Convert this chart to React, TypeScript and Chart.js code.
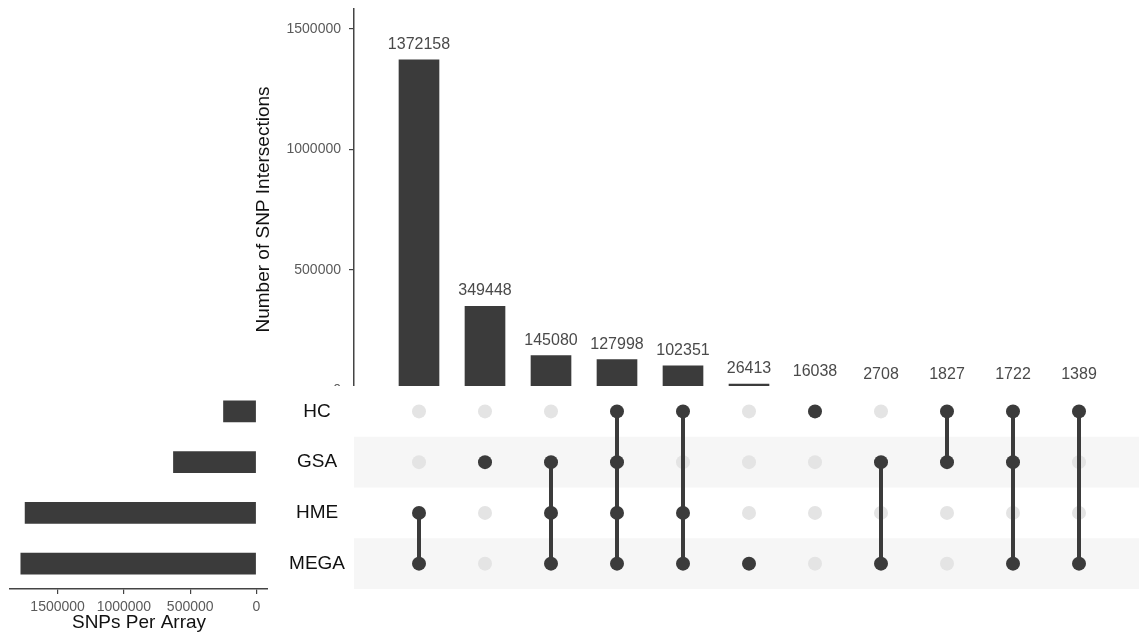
import React, { useEffect, useRef } from 'react';
import { Chart, registerables } from 'chart.js';

Chart.register(...registerables);

const FONT = '"Liberation Sans", Arial, Helvetica, sans-serif';
Chart.defaults.font.family = FONT;

// ---- data ----
const sets = ['HC', 'GSA', 'HME', 'MEGA'];
const setSizes = [251325, 628783, 1747587, 1779819];
const intersectionSizes = [1372158, 349448, 145080, 127998, 102351, 26413, 16038, 2708, 1827, 1722, 1389];
const intersectionMembers = [
  ['HME', 'MEGA'],
  ['GSA'],
  ['GSA', 'HME', 'MEGA'],
  ['HC', 'GSA', 'HME', 'MEGA'],
  ['HC', 'HME', 'MEGA'],
  ['MEGA'],
  ['HC'],
  ['GSA', 'MEGA'],
  ['HC', 'GSA'],
  ['HC', 'GSA', 'MEGA'],
  ['HC', 'MEGA'],
];
const topTicks = [0, 500000, 1000000, 1500000];
const sideTicks = [0, 500000, 1000000, 1500000];

// ---- styling ----
const DARK = '#3b3b3b';
const AXIS = '#444444';
const TICKTEXT = '#5a5a5a';
const X_MIN = -65 / 66;
const X_MAX = 10 + 60 / 66;

const noPad = (s: any) => {
  s.paddingTop = 0;
  s.paddingBottom = 0;
  s.paddingLeft = 0;
  s.paddingRight = 0;
};

const barLabelPlugin = {
  id: 'barLabels',
  afterDatasetsDraw(chart: any) {
    const ctx = chart.ctx;
    const meta = chart.getDatasetMeta(0);
    ctx.save();
    ctx.font = `16px ${FONT}`;
    ctx.fillStyle = '#4a4a4a';
    ctx.textAlign = 'center';
    ctx.textBaseline = 'alphabetic';
    meta.data.forEach((el: any, i: number) => {
      ctx.fillText(String(intersectionSizes[i]), el.x, el.y - 11);
    });
    ctx.restore();
  },
};

const stripePlugin = {
  id: 'stripes',
  beforeDatasetsDraw(chart: any) {
    const { ctx, chartArea, scales } = chart;
    ctx.save();
    ctx.fillStyle = '#f6f6f6';
    sets.forEach((_, r) => {
      if (r % 2 === 1) {
        const y1 = scales.y.getPixelForValue(r - 0.5);
        const y2 = scales.y.getPixelForValue(r + 0.5);
        ctx.fillRect(chartArea.left, Math.min(y1, y2), chartArea.right - chartArea.left, Math.abs(y2 - y1));
      }
    });
    ctx.restore();
  },
};

function TopChart() {
  const ref = useRef<HTMLCanvasElement>(null);
  useEffect(() => {
    const chart = new Chart(ref.current as HTMLCanvasElement, {
      type: 'bar',
      data: {
        datasets: [
          {
            data: intersectionSizes.map((v, i) => ({ x: i, y: v })),
            backgroundColor: DARK,
            barThickness: 40,
          } as any,
        ],
      },
      options: {
        animation: false,
        responsive: false,
        layout: { autoPadding: false, padding: { top: 9, left: 0, right: 0, bottom: 0 } },
        plugins: { legend: { display: false }, tooltip: { enabled: false } },
        scales: {
          x: { type: 'linear', min: X_MIN, max: X_MAX, offset: false, display: false },
          y: {
            type: 'linear',
            min: -81000,
            max: 1583000,
            afterBuildTicks: (s: any) => {
              s.ticks = topTicks.map((v) => ({ value: v }));
            },
            afterFit: (s: any) => {
              s.width = 106;
              noPad(s);
            },
            ticks: { font: { size: 14 }, color: TICKTEXT, padding: 8, callback: (v: any) => String(v) },
            grid: { drawOnChartArea: false, drawTicks: true, tickLength: 5, tickColor: AXIS, lineWidth: 1.2 },
            border: { display: true, color: AXIS, width: 1.5 },
            title: {
              display: true,
              text: 'Number of SNP Intersections',
              font: { size: 19 },
              color: '#111',
              padding: { top: 4, bottom: 4 },
            },
          },
        },
      } as any,
      plugins: [barLabelPlugin],
    });
    return () => chart.destroy();
  }, []);
  return (
    <div style={{ position: 'absolute', left: 248, top: 0, width: 891, height: 386, overflow: 'hidden' }}>
      <canvas ref={ref} width={891} height={410} style={{ display: 'block', width: 891, height: 410 }} />
    </div>
  );
}

function MatrixChart() {
  const ref = useRef<HTMLCanvasElement>(null);
  useEffect(() => {
    const active: { x: number; y: number }[] = [];
    const inactive: { x: number; y: number }[] = [];
    const lineSets: any[] = [];
    intersectionMembers.forEach((members, i) => {
      const idx = members.map((m) => sets.indexOf(m));
      sets.forEach((_, r) => {
        if (idx.includes(r)) active.push({ x: i, y: r });
        else inactive.push({ x: i, y: r });
      });
      if (idx.length > 1) {
        lineSets.push({
          data: [
            { x: i, y: Math.min(...idx) },
            { x: i, y: Math.max(...idx) },
          ],
          showLine: true,
          borderColor: DARK,
          borderWidth: 4,
          pointRadius: 0,
        });
      }
    });
    const chart = new Chart(ref.current as HTMLCanvasElement, {
      type: 'scatter',
      data: {
        datasets: [
          { data: active, backgroundColor: DARK, borderWidth: 0, pointRadius: 7 },
          ...lineSets,
          { data: inactive, backgroundColor: '#e4e4e4', borderWidth: 0, pointRadius: 7 },
        ],
      },
      options: {
        animation: false,
        responsive: false,
        layout: { autoPadding: false, padding: 0 },
        plugins: { legend: { display: false }, tooltip: { enabled: false } },
        scales: {
          x: { type: 'linear', min: X_MIN, max: X_MAX, offset: false, display: false },
          y: {
            type: 'linear',
            min: -0.5,
            max: 3.5,
            reverse: true,
            offset: false,
            afterBuildTicks: (s: any) => {
              s.ticks = sets.map((_, r) => ({ value: r }));
            },
            afterFit: (s: any) => {
              s.width = 74;
              noPad(s);
            },
            ticks: {
              callback: (v: any) => sets[v as number],
              font: { size: 19 },
              color: '#111',
              crossAlign: 'center',
              padding: 9,
            },
            grid: { display: false, drawTicks: false, tickLength: 0 },
            border: { display: false },
          },
        },
      } as any,
      plugins: [stripePlugin],
    });
    return () => chart.destroy();
  }, []);
  return (
    <div style={{ position: 'absolute', left: 280, top: 386, width: 859, height: 203 }}>
      <canvas ref={ref} width={859} height={203} style={{ display: 'block', width: 859, height: 203 }} />
    </div>
  );
}

function SetSizeChart() {
  const ref = useRef<HTMLCanvasElement>(null);
  useEffect(() => {
    const chart = new Chart(ref.current as HTMLCanvasElement, {
      type: 'bar',
      data: {
        labels: sets,
        datasets: [
          {
            data: setSizes,
            backgroundColor: DARK,
            barPercentage: 0.43,
            categoryPercentage: 1,
          },
        ],
      },
      options: {
        animation: false,
        responsive: false,
        indexAxis: 'y',
        layout: { autoPadding: false, padding: { left: 10, right: 0, top: 0, bottom: 0 } },
        plugins: { legend: { display: false }, tooltip: { enabled: false } },
        scales: {
          y: { type: 'category', display: false, offset: true },
          x: {
            type: 'linear',
            reverse: true,
            min: -86700,
            max: 1858900,
            afterBuildTicks: (s: any) => {
              s.ticks = sideTicks.map((v) => ({ value: v }));
            },
            afterFit: (s: any) => {
              s.height = 52;
              noPad(s);
            },
            ticks: {
              font: { size: 14 },
              color: TICKTEXT,
              padding: 5,
              maxRotation: 0,
              autoSkip: false,
              callback: (v: any) => String(v),
            },
            grid: { drawOnChartArea: false, drawTicks: true, tickLength: 5, tickColor: AXIS, lineWidth: 1.2 },
            border: { display: true, color: AXIS, width: 1.5 },
            title: {
              display: true,
              text: 'SNPs Per Array',
              font: { size: 19 },
              color: '#111',
              padding: { top: 0, bottom: 7 },
            },
          },
        },
      } as any,
    });
    return () => chart.destroy();
  }, []);
  return (
    <div style={{ position: 'absolute', left: 0, top: 386, width: 268, height: 255 }}>
      <canvas ref={ref} width={268} height={255} style={{ display: 'block', width: 268, height: 255 }} />
    </div>
  );
}

export default function App() {
  return (
    <div
      style={{
        position: 'absolute',
        left: 0,
        top: 0,
        width: 1139,
        height: 641,
        background: '#ffffff',
        overflow: 'hidden',
      }}
    >
      <TopChart />
      <SetSizeChart />
      <MatrixChart />
    </div>
  );
}
